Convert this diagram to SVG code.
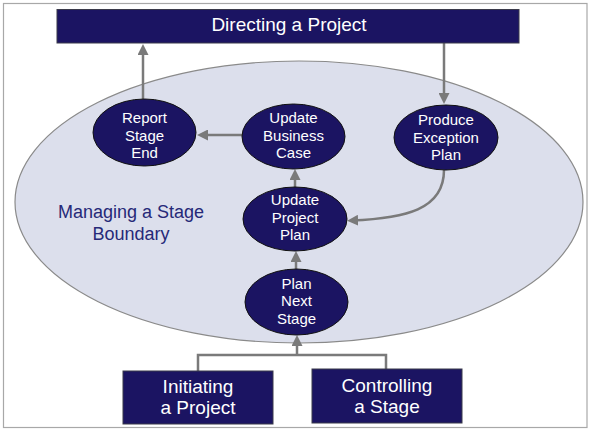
<svg xmlns="http://www.w3.org/2000/svg" width="591" height="432" viewBox="0 0 591 432">
<style>
.box{fill:#1b1462;stroke:#3a3a4a;stroke-width:1}
.node{fill:#1b1462;stroke:#111;stroke-width:1}
.t{font-family:"Liberation Sans",Arial,sans-serif;fill:#fff;text-anchor:middle}
.nt{font-size:15px}
.bt{font-size:19px}
.con{fill:none;stroke:#7a7a7a;stroke-width:2.5}
</style>
<defs>
<marker id="ah" viewBox="0 0 10 10" refX="6" refY="5" markerWidth="11" markerHeight="11" markerUnits="userSpaceOnUse" orient="auto">
<path d="M0,0 L10,5 L0,10 z" fill="#7a7a7a"/>
</marker>
</defs>
<rect x="0" y="0" width="591" height="432" fill="#fff"/>
<rect x="3.5" y="3.5" width="583.5" height="424" fill="#fff" stroke="#a8a8a8" stroke-width="1.2"/>
<g id="stage-boundary">
<ellipse cx="299" cy="202" rx="284" ry="141" fill="#dcdfec" stroke="#8a8a8a" stroke-width="1.2"/>
<text x="131" y="218" font-family="Liberation Sans, Arial, sans-serif" font-size="18" fill="#262978" text-anchor="middle">Managing a Stage</text>
<text x="131" y="239.5" font-family="Liberation Sans, Arial, sans-serif" font-size="18" fill="#262978" text-anchor="middle">Boundary</text>
</g>
<g id="connectors">
<path class="con" d="M143,99 V48.4" marker-end="url(#ah)"/>
<path class="con" d="M444,43 V99.6" marker-end="url(#ah)"/>
<path class="con" d="M242,135 H201.4" marker-end="url(#ah)"/>
<path class="con" d="M295,187 V173.4" marker-end="url(#ah)"/>
<path class="con" d="M296,269 V255.4" marker-end="url(#ah)"/>
<path class="con" d="M444,170 C444,210 405,218 351.5,220.6" marker-end="url(#ah)"/>
<path class="con" d="M198,371 V355 H386 V369"/>
<path class="con" d="M297,355 V339.4" marker-end="url(#ah)"/>
</g>
<g id="directing">
<rect class="box" x="57" y="9.5" width="462" height="33.5"/>
<text class="t bt" x="289" y="31">Directing a Project</text>
</g>
<g id="report-stage-end">
<ellipse class="node" cx="144.5" cy="132.5" rx="51.5" ry="33.5"/>
<text class="t nt" x="144.5" y="123">Report</text>
<text class="t nt" x="144.5" y="140.5">Stage</text>
<text class="t nt" x="144.5" y="158">End</text>
</g>
<g id="update-business-case">
<ellipse class="node" cx="293.5" cy="136.5" rx="51.5" ry="32.5"/>
<text class="t nt" x="293.5" y="123">Update</text>
<text class="t nt" x="293.5" y="140.7">Business</text>
<text class="t nt" x="293.5" y="158.3">Case</text>
</g>
<g id="produce-exception-plan">
<ellipse class="node" cx="446" cy="137.5" rx="52" ry="32.5"/>
<text class="t nt" x="446" y="124.5">Produce</text>
<text class="t nt" x="446" y="142.5">Exception</text>
<text class="t nt" x="446" y="160.3">Plan</text>
</g>
<g id="update-project-plan">
<ellipse class="node" cx="295" cy="219" rx="52" ry="32"/>
<text class="t nt" x="295" y="205">Update</text>
<text class="t nt" x="295" y="222.5">Project</text>
<text class="t nt" x="295" y="240">Plan</text>
</g>
<g id="plan-next-stage">
<ellipse class="node" cx="296.5" cy="302" rx="51.5" ry="33"/>
<text class="t nt" x="296.5" y="288.5">Plan</text>
<text class="t nt" x="296.5" y="306.3">Next</text>
<text class="t nt" x="296.5" y="324">Stage</text>
</g>
<g id="initiating">
<rect class="box" x="123" y="371" width="150" height="53"/>
<text class="t bt" x="198" y="392.5">Initiating</text>
<text class="t bt" x="198" y="414.3">a Project</text>
</g>
<g id="controlling">
<rect class="box" x="312" y="369" width="150" height="54"/>
<text class="t bt" x="387" y="391.7">Controlling</text>
<text class="t bt" x="387" y="413.3">a Stage</text>
</g>
</svg>
